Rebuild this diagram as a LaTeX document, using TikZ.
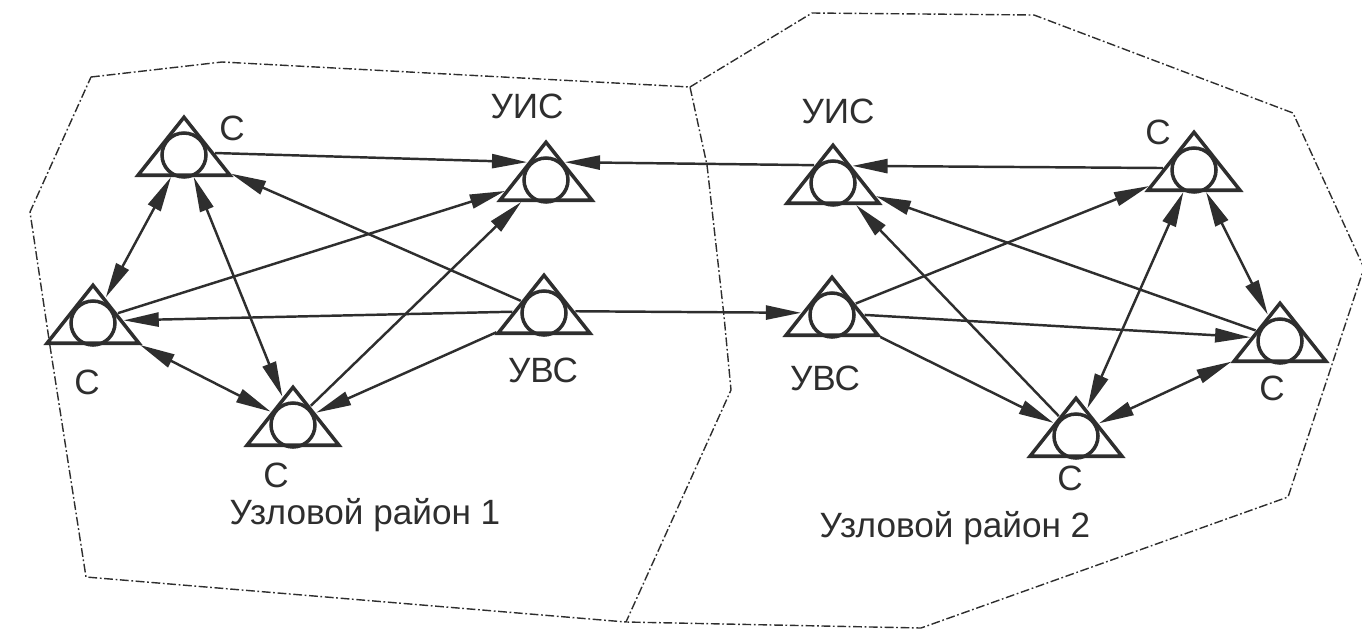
\documentclass[tikz,border=0pt]{standalone}
\usepackage{fontspec}
\setmainfont{Liberation Sans}
\usetikzlibrary{arrows.meta,shapes.geometric}
\definecolor{ink}{HTML}{2E2E2E}
\tikzset{
	station/.style={
			draw=ink, isosceles triangle, isosceles triangle stretches,
			shape border rotate=90, minimum width=1.84cm, minimum height=1.16cm,
			inner sep=0pt, line width=2pt, anchor=south
		},
	link/.style={draw=ink, line width=1.4pt, -{Triangle[length=20pt,width=8pt]}},
	duplex/.style={draw=ink, line width=1.4pt, {Triangle[length=20pt,width=8pt]}-{Triangle[length=20pt,width=8pt]}},
	zone/.style={draw=ink, line width=0.8pt, dash pattern=on 5pt off 1.5pt on 1pt off 1.5pt},
	tag/.style={text=ink, font=\fontsize{20}{22}\selectfont, inner sep=0pt}
}

\begin{document}
\begin{tikzpicture}[x=0.02cm, y=-0.02cm]
		\useasboundingbox (0, 0) rectangle (1362, 630);

		\draw[zone]	(91, 77) -- (222, 62) -- (690, 87) -- (707, 165) -- (724, 316) -- (731, 390) -- (626, 622) -- (86, 577) -- (50, 346) -- (30, 212) -- cycle;
		\draw[zone]	(690, 87) -- (812, 13) -- (1034, 15) -- (1293, 113) -- (1364, 268) -- (1288, 497) -- (921, 628) -- (626, 622);

		\node[station] (s1) at (184, 177) {};
		\node[station] (s2) at (93, 345) {};
		\node[station] (s3) at (293, 447) {};
		\node[station] (uis1) at (546, 202) {};
		\node[station] (uvs1) at (544, 335) {};
		\node[station] (uis2) at (833, 205) {};
		\node[station] (uvs2) at (832, 337) {};
		\node[station] (s4) at (1194, 192) {};
		\node[station] (s5) at (1280, 363) {};
		\node[station] (s6) at (1076, 458) {};
		\foreach \n in {s1, s2, s3, uis1, uvs1, uis2, uvs2, s4, s5, s6}
			\draw[ink, line width=2pt] (\n.south) ++(0, -22) circle[radius=22];

		\node[tag] (t1) at (232, 128) {С};
		\node[tag] (t2) at (87, 382) {С};
		\node[tag] (t3) at (276, 475) {С};
		\node[tag] (tuis1) at (527, 106) {УИС};
		\node[tag] (tuvs1) at (543, 370) {УВС};
		\node[tag] (tuis2) at (838, 111) {УИС};
		\node[tag] (tuvs2) at (825, 378) {УВС};
		\node[tag] (t4) at (1158, 132) {С};
		\node[tag] (t5) at (1272, 388) {С};
		\node[tag] (t6) at (1070, 478) {С};
		\node[tag] (area1) at (365, 515) {Узловой район 1};
		\node[tag] (area2) at (955, 528) {Узловой район 2};

		\draw[link]	(s1.east) -- (uis1.140);
		\draw[link]	(uis2.140) -- (uis1.40);
		\draw[link]	(s4.west) -- (uis2.38);
		\draw[duplex]	(s1) -- (s2);
		\draw[duplex]	(s1) -- (s3);
		\draw[link]	(uvs1) -- (s1);
		\draw[link]	(s2) -- (uis1);
		\draw[link]	(s3) -- (uis1);
		\draw[link]	(uvs1) -- (s2);
		\draw[link]	(uvs1) -- (s3);
		\draw[duplex]	(s2) -- (s3);
		\draw[link]	(uvs1) -- (uvs2);
		\draw[link]	(uvs2) -- (s4);
		\draw[link]	(uvs2) -- (s5);
		\draw[link]	(uvs2) -- (s6);
		\draw[link]	(s6) -- (uis2);
		\draw[link]	(s5) -- (uis2);
		\draw[duplex]	(s4) -- (s6);
		\draw[duplex]	(s4) -- (s5);
		\draw[duplex]	(s5) -- (s6);
\end{tikzpicture}
\end{document}
